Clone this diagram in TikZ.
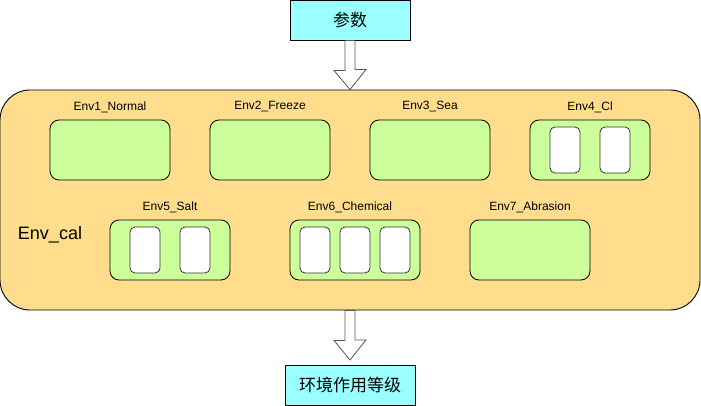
\documentclass[tikz,border=0pt]{standalone}
\usepackage{fontspec}
\setmainfont{Liberation Sans}
\newfontfamily\cjk{Noto Sans CJK SC}
\usetikzlibrary{calc}
\definecolor{cyanbox}{HTML}{99FFFF}
\definecolor{envfill}{HTML}{FFDD8C}
\definecolor{greenfill}{HTML}{CCFF99}
\definecolor{arrline}{HTML}{555555}
\begin{document}
\begin{tikzpicture}[x=1pt,y=-1pt,
  cbox/.style={draw=black,fill=cyanbox,line width=0.9pt,minimum width=120pt,minimum height=40pt,inner sep=0pt,font=\cjk\fontsize{17}{20}\selectfont},
  envbox/.style={draw=black,fill=envfill,line width=0.9pt,rounded corners=30pt,minimum width=700pt,minimum height=220pt,inner sep=0pt},
  gbox/.style={draw=black,fill=greenfill,line width=0.8pt,rounded corners=9pt,minimum width=120pt,minimum height=60pt,inner sep=0pt},
  wbox/.style={draw=black!80,fill=white,line width=0.8pt,rounded corners=5pt,minimum width=30pt,minimum height=46pt,inner sep=0pt},
  lbl/.style={font=\fontsize{12}{14}\selectfont,inner sep=0pt},
  blockarr/.style={draw=arrline,fill=white,line width=0.8pt,line join=miter}
]
\useasboundingbox (0,0) rectangle (701,406);
\node[cbox] (top) at (350,20) {参数};
\node[envbox] (env) at (350,200) {};
\node[cbox,minimum width=130pt] (bot) at (350,385) {环境作用等级};
\coordinate (tip2) at (350,360);

\node[font=\fontsize{18}{20}\selectfont,inner sep=0pt] (envlbl) at (50,235) {Env\_cal};

% row 1
\node[gbox] (e1) at (110,150) {};
\node[lbl] (l1) at (110,107) {Env1\_Normal};
\node[gbox] (e2) at (270,150) {};
\node[lbl] (l2) at (270,107) {Env2\_Freeze};
\node[gbox] (e3) at (430,150) {};
\node[lbl] (l3) at (430,107) {Env3\_Sea};
\node[gbox] (e4) at (590,150) {};
\node[lbl] (l4) at (590,107) {Env4\_Cl};
\node[wbox] (e4a) at (565,150) {};
\node[wbox] (e4b) at (615,150) {};

% row 2
\node[gbox] (e5) at (170,250) {};
\node[lbl] (l5) at (170,207) {Env5\_Salt};
\node[wbox] (e5a) at (145,250) {};
\node[wbox] (e5b) at (195,250) {};
\node[gbox,minimum width=130pt] (e6) at (355,250) {};
\node[lbl] (l6) at (350,207) {Env6\_Chemical};
\node[wbox] (e6a) at (315,250) {};
\node[wbox] (e6b) at (355,250) {};
\node[wbox] (e6c) at (395,250) {};
\node[gbox] (e7) at (530,250) {};
\node[lbl] (l7) at (530,207) {Env7\_Abrasion};

% arrows
\draw[blockarr] ($(top.south)+(-5,0)$) -- ++(0,30) -- ++(-11,0) -- (env.north)
  -- ++(16,-20) -- ++(-11,0) -- ($(top.south)+(5,0)$) -- cycle;
\draw[blockarr] ($(env.south)+(-5,0)$) -- ++(0,30) -- ++(-11,0) -- (tip2)
  -- ++(16,-20) -- ++(-11,0) -- ($(env.south)+(5,0)$) -- cycle;
\end{tikzpicture}
\end{document}
